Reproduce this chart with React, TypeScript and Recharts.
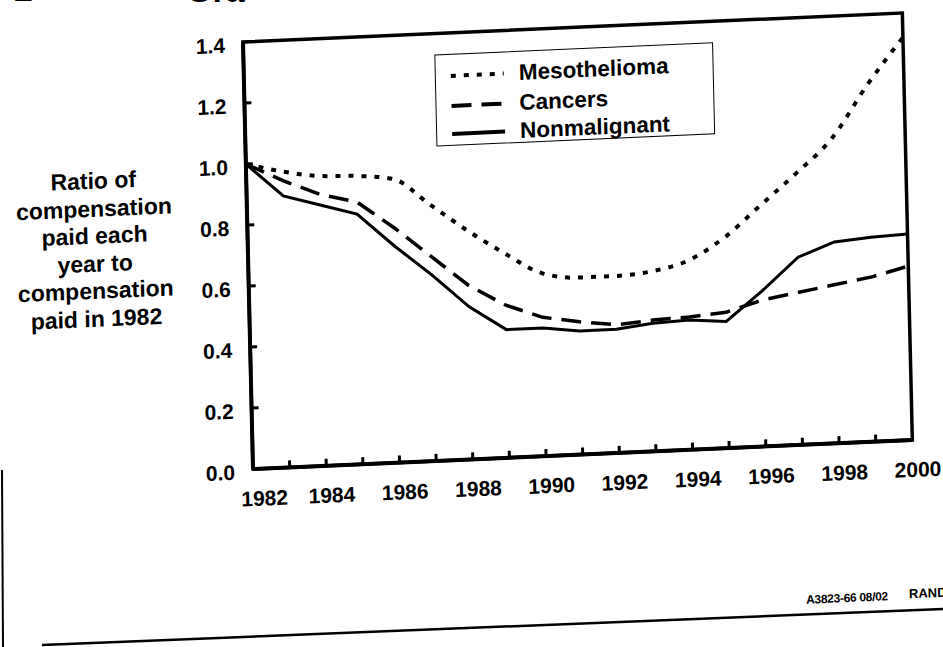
import React from 'react';
import { LineChart, Line, XAxis, YAxis, ReferenceArea } from 'recharts';

const years = [1982, 1983, 1984, 1985, 1986, 1987, 1988, 1989, 1990, 1991, 1992, 1993, 1994, 1995, 1996, 1997, 1998, 1999, 2000];
const mesothelioma = [1.0, 0.97, 0.95, 0.945, 0.93, 0.84, 0.75, 0.67, 0.6, 0.58, 0.58, 0.59, 0.62, 0.69, 0.79, 0.89, 1.0, 1.17, 1.32];
const cancers = [1.0, 0.94, 0.89, 0.86, 0.77, 0.67, 0.57, 0.5, 0.455, 0.435, 0.42, 0.43, 0.435, 0.445, 0.48, 0.5, 0.52, 0.54, 0.57];
const nonmalignant = [1.0, 0.89, 0.855, 0.82, 0.71, 0.61, 0.5, 0.42, 0.42, 0.405, 0.405, 0.42, 0.425, 0.415, 0.51, 0.615, 0.66, 0.67, 0.675];
const yTicks = [0, 0.2, 0.4, 0.6, 0.8, 1.0, 1.2, 1.4];
const yearLabels = [1982, 1984, 1986, 1988, 1990, 1992, 1994, 1996, 1998, 2000];
const seriesNames = ['Mesothelioma', 'Cancers', 'Nonmalignant'];
const axisTitleLines = ['Ratio of', 'compensation', 'paid each', 'year to', 'compensation', 'paid in 1982'];

const data = years.map((year, i) => ({
  year,
  mesothelioma: mesothelioma[i],
  cancers: cancers[i],
  nonmalignant: nonmalignant[i],
}));

const FONT = '"Liberation Sans", Arial, Helvetica, sans-serif';
const DOT = '5 8';
const DASH = '20 10';

const XTick = (props: any) => {
  const { x, y, payload } = props;
  const v = payload.value as number;
  const showLine = v !== 1982 && v !== 2000;
  const showLabel = yearLabels.includes(v);
  return (
    <g>
      {showLine && <line x1={x} x2={x} y1={y} y2={y - 7} stroke="#000" strokeWidth={3} />}
      {showLabel && (
        <text x={x + (v === 1982 ? 11 : 5)} y={y + 37} textAnchor="middle" fontFamily={FONT} fontWeight="bold" fontSize={21} fill="#000">
          {v}
        </text>
      )}
    </g>
  );
};

const YTick = (props: any) => {
  const { x, y, payload } = props;
  const v = payload.value as number;
  const showLine = v !== 0 && v !== 1.4;
  return (
    <g>
      {showLine && <line x1={x} x2={x + 7} y1={y} y2={y} stroke="#000" strokeWidth={3} />}
      <text x={x - 18} y={y + 10} textAnchor="end" fontFamily={FONT} fontWeight="bold" fontSize={21} fill="#000">
        {v.toFixed(1)}
      </text>
    </g>
  );
};

const LegendRow = ({ dash, label, top }: { dash?: string; label: string; top: number }) => (
  <div style={{ position: 'absolute', left: 0, top, height: 30, width: 279 }}>
    <svg width={70} height={30} style={{ position: 'absolute', left: 0, top: 0 }}>
      <line x1={15} x2={68} y1={15} y2={15} stroke="#000" strokeWidth={4} strokeDasharray={dash} />
    </svg>
    <div
      style={{
        position: 'absolute',
        left: 83,
        top: 0,
        lineHeight: '30px',
        fontFamily: FONT,
        fontWeight: 'bold',
        fontSize: 22.5,
        color: '#000',
        whiteSpace: 'nowrap',
      }}
    >
      {label}
    </div>
  </div>
);

export default function App() {
  return (
    <div style={{ position: 'absolute', left: 0, top: 0, width: 943, height: 647, overflow: 'hidden', background: '#fff' }}>
      <svg width={943} height={647} style={{ position: 'absolute', left: 0, top: 0 }}>
        <text x={14} y={1} fontFamily={FONT} fontWeight="bold" fontSize={34} fill="#000">2</text>
        <text x={186} y={2} fontFamily={FONT} fontWeight="bold" fontSize={34} fill="#000">Gra</text>
        <line x1={42} y1={645} x2={943} y2={609} stroke="#000" strokeWidth={2.5} />
        <line x1={2} y1={470} x2={3} y2={647} stroke="#000" strokeWidth={2} />
      </svg>
      <div
        style={{
          position: 'absolute',
          left: 0,
          top: 0,
          width: 943,
          height: 647,
          transform: 'matrix(0.999, -0.044, 0.0234, 1, 0, 0)',
          transformOrigin: '253px 469px',
        }}
      >
        <LineChart width={943} height={647} data={data} margin={{ top: 42, right: 30, bottom: 138, left: 193 }}>
          <XAxis
            dataKey="year"
            type="number"
            domain={[1982, 2000]}
            ticks={years}
            interval={0}
            tickSize={0}
            tickMargin={0}
            tickLine={false}
            height={40}
            axisLine={{ stroke: '#000', strokeWidth: 4 }}
            tick={<XTick />}
          />
          <YAxis
            type="number"
            domain={[0, 1.4]}
            ticks={yTicks}
            interval={0}
            tickSize={0}
            tickMargin={0}
            tickLine={false}
            width={60}
            axisLine={{ stroke: '#000', strokeWidth: 4 }}
            tick={<YTick />}
          />
          <ReferenceArea x1={1982} x2={2000} y1={0} y2={1.4} fill="none" stroke="#000" strokeWidth={3.5} />
          <Line type="monotone" dataKey="mesothelioma" name={seriesNames[0]} stroke="#000" strokeWidth={4} strokeDasharray={DOT} dot={false} isAnimationActive={false} />
          <Line type="linear" dataKey="cancers" name={seriesNames[1]} stroke="#000" strokeWidth={3.5} strokeDasharray={DASH} dot={false} isAnimationActive={false} />
          <Line type="linear" dataKey="nonmalignant" name={seriesNames[2]} stroke="#000" strokeWidth={3} dot={false} isAnimationActive={false} />
        </LineChart>

        <div style={{ position: 'absolute', left: 444, top: 63, width: 277, height: 90, border: '1.5px solid #000', background: '#fff' }}>
          <LegendRow dash={DOT} label={seriesNames[0]} top={6} />
          <LegendRow dash={DASH} label={seriesNames[1]} top={36} />
          <LegendRow label={seriesNames[2]} top={64} />
        </div>

        <div
          style={{
            position: 'absolute',
            left: 0,
            top: 161,
            width: 200,
            textAlign: 'center',
            fontFamily: FONT,
            fontWeight: 'bold',
            fontSize: 23,
            lineHeight: '27.5px',
            color: '#000',
          }}
        >
          {axisTitleLines.map((l, i) => (
            <div key={i}>{l}</div>
          ))}
        </div>

        <div style={{ position: 'absolute', left: 803, top: 617, fontFamily: FONT, fontWeight: 'bold', fontSize: 12, color: '#000', whiteSpace: 'nowrap', letterSpacing: -0.3 }}>
          A3823-66 08/02
        </div>
        <div style={{ position: 'absolute', left: 906, top: 615, fontFamily: FONT, fontWeight: 'bold', fontSize: 13, color: '#000', whiteSpace: 'nowrap' }}>
          RAND
        </div>
      </div>
    </div>
  );
}
